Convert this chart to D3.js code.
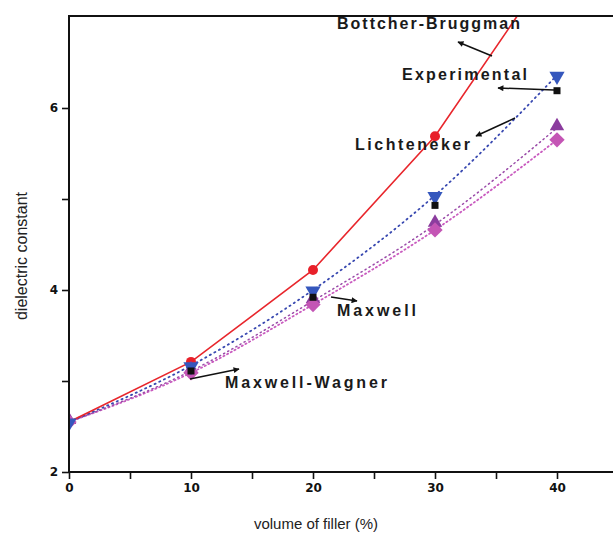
<!DOCTYPE html>
<html>
<head>
<meta charset="utf-8">
<script src="https://cdn.jsdelivr.net/npm/d3@7"></script>
<style>
  html, body { margin: 0; padding: 0; background: #fff; }
  svg { display: block; }
</style>
</head>
<body>
<svg id="chart" width="613" height="536"></svg>
<script>
// Filler volume fractions (%)
const volume = [0, 10, 20, 30, 40];

// Dielectric constant for each model and the measurements
const bottcherBruggman = [2.55, 3.21, 4.22, 5.69, 7.65];
const experimental     = [2.55, 3.11, 3.92, 4.93, 6.19];
const lichtenecker     = [2.55, 3.17, 4.00, 5.04, 6.36];
const maxwell          = [2.55, 3.09, 3.84, 4.66, 5.65];
const maxwellWagner    = [2.55, 3.11, 3.88, 4.72, 5.78];

const xTicks = [0, 5, 10, 15, 20, 25, 30, 35, 40, 45];
const xTickLabels = ["0", "", "10", "", "20", "", "30", "", "40", ""];
const yTicks = [2, 3, 4, 5, 6];
const yTickLabels = ["2", "", "4", "", "6"];

const svg = d3.select("#chart");
const plotLeft = 69, plotRight = 618, plotTop = 16, plotBottom = 472;

const x = d3.scaleLinear().domain([0, 45]).range([plotLeft, plotRight]);
const y = d3.scaleLinear().domain([2, 7]).range([plotBottom, plotTop + 1]);

const defs = svg.append("defs");
defs.append("clipPath").attr("id", "plot")
  .append("rect").attr("x", plotLeft).attr("y", plotTop)
  .attr("width", 613 - plotLeft).attr("height", plotBottom - plotTop);

defs.append("marker")
  .attr("id", "head").attr("viewBox", "0 0 10 10").attr("refX", 9).attr("refY", 5)
  .attr("markerWidth", 8).attr("markerHeight", 6).attr("orient", "auto")
  .attr("markerUnits", "userSpaceOnUse")
  .append("path").attr("d", "M0,0 L10,5 L0,10 Z").attr("fill", "#111");

const plot = svg.append("g").attr("clip-path", "url(#plot)");

const pts = vals => volume.map((v, i) => [v, vals[i]]);

// Model curves
const smooth = d3.line().x(d => x(d[0])).y(d => y(d[1])).curve(d3.curveMonotoneX);
const straight = d3.line().x(d => x(d[0])).y(d => y(d[1]));

plot.append("path").datum(pts(maxwell))
  .attr("d", smooth).attr("fill", "none").attr("stroke", "#c95bbf")
  .attr("stroke-width", 1.8).attr("stroke-dasharray", "1.2,3").attr("stroke-linecap", "round");
plot.append("path").datum(pts(maxwellWagner))
  .attr("d", smooth).attr("fill", "none").attr("stroke", "#9a4aa8")
  .attr("stroke-width", 1.5).attr("stroke-dasharray", "1.2,3.5").attr("stroke-linecap", "round");
plot.append("path").datum(pts(lichtenecker))
  .attr("d", smooth).attr("fill", "none").attr("stroke", "#3848b0")
  .attr("stroke-width", 1.8).attr("stroke-dasharray", "1.2,4").attr("stroke-linecap", "round");
plot.append("path").datum(pts(bottcherBruggman))
  .attr("d", straight).attr("fill", "none").attr("stroke", "#e8262c")
  .attr("stroke-width", 1.6);

// Markers
const sym = (type, size) => d3.symbol().type(type).size(size);

plot.selectAll(".bb").data(pts(bottcherBruggman).slice(1)).join("circle")
  .attr("cx", d => x(d[0])).attr("cy", d => y(d[1])).attr("r", 5).attr("fill", "#e8202a");

plot.selectAll(".mw").data(pts(maxwellWagner)).join("path")
  .attr("transform", d => `translate(${x(d[0])},${y(d[1]) - 2})`)
  .attr("d", sym(d3.symbolTriangle, 90)).attr("fill", "#8b3c9e");

plot.selectAll(".mx").data(pts(maxwell)).join("path")
  .attr("transform", d => `translate(${x(d[0])},${y(d[1])})`)
  .attr("d", sym(d3.symbolDiamond2, 150)).attr("fill", "#c455b5");

plot.selectAll(".li").data(pts(lichtenecker)).join("path")
  .attr("transform", d => `translate(${x(d[0])},${y(d[1]) + 1}) rotate(180)`)
  .attr("d", sym(d3.symbolTriangle, 100)).attr("fill", "#3557bd");

plot.selectAll(".ex").data(pts(experimental).slice(1)).join("rect")
  .attr("x", d => x(d[0]) - 3.5).attr("y", d => y(d[1]) - 3.5)
  .attr("width", 7).attr("height", 7).attr("fill", "#111");

// Axes
const xAxis = d3.axisBottom(x).tickValues(xTicks)
  .tickFormat((d, i) => xTickLabels[i]).tickSize(7).tickPadding(4);
const yAxis = d3.axisLeft(y).tickValues(yTicks)
  .tickFormat((d, i) => yTickLabels[i]).tickSize(7).tickPadding(4);

const gx = svg.append("g").attr("transform", `translate(0,${plotBottom})`).call(xAxis);
const gy = svg.append("g").attr("transform", `translate(${plotLeft},0)`).call(yAxis);
[gx, gy].forEach(g => {
  g.select(".domain").remove();
  g.selectAll(".tick line").attr("stroke", "#111").attr("stroke-width", 1.6);
  g.selectAll(".tick text").attr("fill", "#111")
    .style("font-family", "'DejaVu Sans', sans-serif")
    .style("font-weight", "bold").style("font-size", "12px");
});

// Frame: left, bottom and top lines
svg.append("line").attr("x1", plotLeft).attr("x2", plotLeft).attr("y1", plotTop - 1).attr("y2", plotBottom + 1)
  .attr("stroke", "#111").attr("stroke-width", 2);
svg.append("line").attr("x1", plotLeft - 1).attr("x2", 613).attr("y1", plotBottom).attr("y2", plotBottom)
  .attr("stroke", "#111").attr("stroke-width", 2);
svg.append("line").attr("x1", plotLeft - 1).attr("x2", 613).attr("y1", plotTop).attr("y2", plotTop)
  .attr("stroke", "#111").attr("stroke-width", 2);

// Axis titles
svg.append("text").attr("x", 316).attr("y", 529).attr("text-anchor", "middle")
  .style("font-family", "'Liberation Sans', Arial, sans-serif").style("font-size", "15px")
  .attr("fill", "#222").text("volume of filler (%)");
svg.append("text").attr("transform", "translate(27,256) rotate(-90)").attr("text-anchor", "middle")
  .style("font-family", "'Liberation Sans', Arial, sans-serif").style("font-size", "16px")
  .attr("fill", "#222").text("dielectric constant");

// Annotations with pointer arrows
const notes = [
  { text: "Bottcher-Bruggman", x: 337, y: 29, w: 183, from: [492, 56], to: [458, 42] },
  { text: "Experimental",      x: 402, y: 80, w: 125, from: [554, 90], to: [498, 88] },
  { text: "Lichteneker",       x: 355, y: 150, w: 115, from: [515, 118], to: [476, 136] },
  { text: "Maxwell",           x: 337, y: 316, w: 79,  from: [331, 297], to: [357, 301] },
  { text: "Maxwell-Wagner",    x: 225, y: 388, w: 162, from: [190, 379], to: [239, 369] }
];

const ann = svg.append("g");
ann.selectAll("text").data(notes).join("text")
  .attr("x", d => d.x).attr("y", d => d.y)
  .attr("textLength", d => d.w).attr("lengthAdjust", "spacing")
  .style("font-family", "'Liberation Sans', Arial, sans-serif")
  .style("font-weight", "bold").style("font-size", "16px")
  .attr("fill", "#1a1a1a").text(d => d.text);
ann.selectAll("line").data(notes).join("line")
  .attr("x1", d => d.from[0]).attr("y1", d => d.from[1])
  .attr("x2", d => d.to[0]).attr("y2", d => d.to[1])
  .attr("stroke", "#111").attr("stroke-width", 1.5).attr("marker-end", "url(#head)");
</script>
</body>
</html>
